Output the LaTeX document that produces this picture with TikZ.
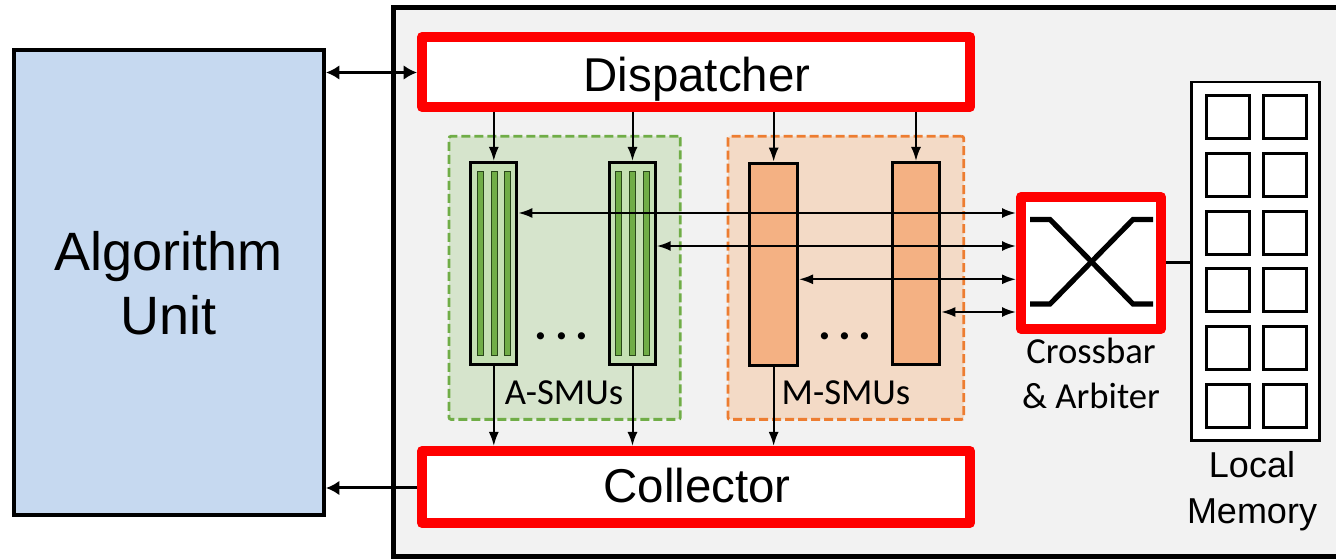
\documentclass[tikz,border=0pt]{standalone}
\usepackage{fontspec}
\setmainfont{Liberation Sans}
\newfontfamily\calib{Carlito}
\usetikzlibrary{arrows.meta,fit}

\definecolor{algfill}{RGB}{198,217,240}
\definecolor{corefill}{RGB}{242,242,242}
\definecolor{agreen}{RGB}{112,173,71}
\definecolor{aregfill}{RGB}{214,228,204}
\definecolor{asmufill}{RGB}{197,224,180}
\definecolor{bardraw}{RGB}{40,70,25}
\definecolor{morange}{RGB}{237,125,49}
\definecolor{mregfill}{RGB}{243,218,198}
\definecolor{msmufill}{RGB}{244,177,131}
\definecolor{hotred}{RGB}{255,0,0}

\begin{document}
\begin{tikzpicture}[x=0.75pt,y=-0.75pt,
  fitbox/.style={inner sep=0pt},
  corebox/.style={fitbox, draw=black, fill=corefill, line width=3.75pt},
  algbox/.style={fitbox, draw=black, fill=algfill, line width=3pt},
  redbox/.style={fitbox, draw=hotred, fill=white, line width=7.5pt, line join=round},
  aregion/.style={fitbox, draw=agreen, fill=aregfill, line width=2.1pt, rounded corners=1.5pt, dash pattern=on 6.75pt off 3pt},
  mregion/.style={fitbox, draw=morange, fill=mregfill, line width=2.1pt, rounded corners=1.5pt, dash pattern=on 6.75pt off 3pt},
  asmu/.style={fitbox, draw=black, fill=asmufill, line width=2.25pt},
  msmu/.style={fitbox, draw=black, fill=msmufill, line width=2.25pt},
  membox/.style={fitbox, draw=black, fill=white, line width=1.9pt},
  bank/.style={draw=black, fill=white, line width=2.25pt},
  lane/.style={draw=bardraw, fill=agreen, line width=0.75pt},
  arr/.style={line width=1.5pt, -{Latex[length=10.5pt,width=7.5pt]}},
  darr/.style={line width=1.5pt, {Latex[length=10.5pt,width=7.5pt]}-{Latex[length=10.5pt,width=7.5pt]}},
  bigarr/.style={line width=2.25pt, -{Latex[length=10pt,width=11pt]}},
  bigdarr/.style={line width=2.25pt, {Latex[length=10pt,width=11pt]}-{Latex[length=10pt,width=11pt]}},
  bigtxt/.style={anchor=base, inner sep=0pt, font=\fontsize{35.6pt}{40pt}\selectfont},
  algtxt/.style={anchor=base, inner sep=0pt, font=\fontsize{40.5pt}{46pt}\selectfont},
  memtxt/.style={anchor=base, inner sep=0pt, font=\fontsize{27pt}{32pt}\selectfont},
  smalltxt/.style={anchor=base, inner sep=0pt, font=\calib\fontsize{27.5pt}{32pt}\selectfont},
  dotstxt/.style={anchor=base, inner sep=0pt, font=\calib\bfseries\fontsize{36pt}{40pt}\selectfont},
]
\useasboundingbox (0,0) rectangle (1336,559);

% accelerator core (runs off the right edge)
\node[corebox, fit={(393,7.3)(1360,556.5)}] (core) {};

% algorithm unit
\node[algbox, fit={(13.5,50)(324,515)}] (alg) {};

% dispatcher and collector
\node[redbox, fit={(422,37)(970,107)}] (disp) {};
\node[redbox, fit={(422,451)(970,523)}] (coll) {};

% SMU groups
\node[aregion, fit={(449,136.3)(680.3,419.4)}] (areg) {};
\node[mregion, fit={(728,136.3)(963.7,419.4)}] (mreg) {};

% A-SMUs with their three lanes
\node[asmu, fit={(470.8,162.5)(516.8,364.5)}] (a1) {};
\node[asmu, fit={(609.8,162.5)(655.2,364.5)}] (a2) {};
\foreach \c in {494,632.5}{
  \foreach \d in {-13.7,0,13.7}{
    \draw[lane] (\c+\d-3,171.5) rectangle (\c+\d+3,356);
  }
}

% M-SMUs
\node[msmu, fit={(749.8,163.2)(797.5,365.2)}] (m1) {};
\node[msmu, fit={(892.2,162.5)(939.8,364.2)}] (m2) {};

% crossbar
\node[redbox, fit={(1021,197)(1161,329)}] (xbar) {};
\draw[line width=3.9pt] (1030,219.5) -- (1050,219.5) -- (1133,304) -- (1153,304);
\draw[line width=3.9pt] (1153,219.5) -- (1133,219.5) -- (1050,304) -- (1030,304);

% local memory with its banks
\node[membox, fit={(1191.3,82)(1319.7,440.5)}] (mem) {};
\foreach \r in {0,...,5}{
  \foreach \cx in {1228.2,1284.7}{
    \draw[bank] (\cx-21.5,117+57.8*\r-21.5) rectangle (\cx+21.5,117+57.8*\r+21.5);
  }
}
\draw[line width=2.25pt] (xbar.east) -- (mem.west |- xbar.east);

% algorithm unit links
\coordinate (ylink1) at (0,72.5);
\coordinate (ylink2) at (0,488);
\draw[bigdarr] (alg.east |- ylink1) -- (disp.west |- ylink1);
\draw[bigarr] (coll.west |- ylink2) -- (alg.east |- ylink2);

% dispatcher to SMUs
\draw[arr] (disp.south -| a1.north) -- (a1.north);
\draw[arr] (disp.south -| a2.north) -- (a2.north);
\draw[arr] (disp.south -| m1.north) -- (m1.north);
\draw[arr] (disp.south -| m2.north) -- (m2.north);

% SMUs to collector
\draw[arr] (a1.south) -- (a1.south |- coll.north);
\draw[arr] (a2.south) -- (a2.south |- coll.north);
\draw[arr] (m1.south) -- (m1.south |- coll.north);

% SMUs to crossbar
\coordinate (h1) at (0,213);
\coordinate (h2) at (0,246);
\coordinate (h3) at (0,279.3);
\coordinate (h4) at (0,312);
\draw[darr] (a1.east |- h1) -- (xbar.west |- h1);
\draw[darr] (a2.east |- h2) -- (xbar.west |- h2);
\draw[darr] (m1.east |- h3) -- (xbar.west |- h3);
\draw[darr] (m2.east |- h4) -- (xbar.west |- h4);

% labels
\node[algtxt] (algt1) at (168.75,271) {Algorithm};
\node[algtxt] (algt2) at (168.75,335) {Unit};
\node[bigtxt] (dispt) at (697,92) {Dispatcher};
\node[bigtxt] (collt) at (697,503) {Collector};
\node[smalltxt] (at) at (564,405) {A-SMUs};
\node[smalltxt] (mt) at (846,405) {M-SMUs};
\node[dotstxt] (adots) at (561.5,340) {.\hspace{5.5pt}.\hspace{5.5pt}.};
\node[dotstxt] (mdots) at (845,340) {.\hspace{5.5pt}.\hspace{5.5pt}.};
\node[smalltxt] (xt1) at (1091,364) {Crossbar};
\node[smalltxt] (xt2) at (1091,409) {\& Arbiter};
\node[memtxt] (memt1) at (1252,478) {Local};
\node[memtxt] (memt2) at (1252,523) {Memory};
\end{tikzpicture}
\end{document}
